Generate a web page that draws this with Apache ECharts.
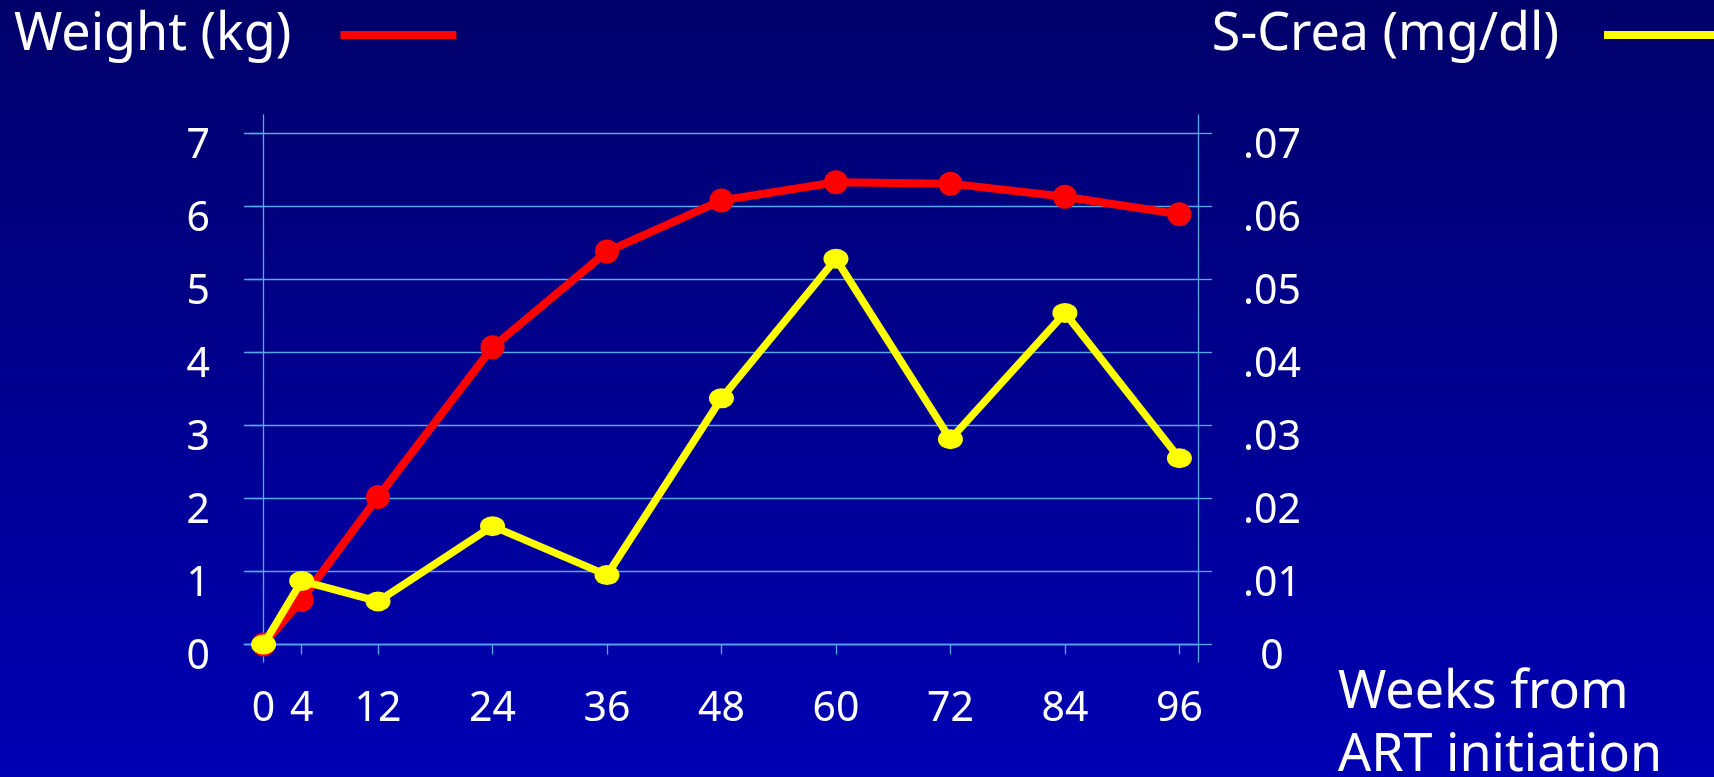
<!DOCTYPE html>
<html>
<head>
<meta charset="utf-8">
<script src="https://cdn.jsdelivr.net/npm/echarts@6/dist/echarts.min.js"></script>
<style>
  html, body { margin: 0; padding: 0; }
  #chart { width: 1714px; height: 777px; }
</style>
</head>
<body>
<div id="chart"></div>
<script>
// ---- data ----
const weeks = [0, 4, 12, 24, 36, 48, 60, 72, 84, 96];
const weightGain = [0, 0.61, 2.02, 4.07, 5.38, 6.08, 6.33, 6.31, 6.13, 5.89];
const sCrea = [0, 0.0087, 0.0059, 0.0162, 0.0095, 0.0337, 0.0528, 0.0281, 0.0454, 0.0255];
const leftTicks = [0, 1, 2, 3, 4, 5, 6, 7];
const rightTicks = [0, 0.01, 0.02, 0.03, 0.04, 0.05, 0.06, 0.07];
const rightTickLabels = ['0', '.01', '.02', '.03', '.04', '.05', '.06', '.07'];
const seriesNames = ['Weight (kg)', 'S-Crea (mg/dl)'];
const xTitle = 'Weeks from\nART initiation';

const FONT = 'Noto Sans';
const GRID_COLOR = '#58a8e6';

const chart = echarts.init(document.getElementById('chart'));
chart.setOption({
  animation: false,
  backgroundColor: {
    type: 'linear', x: 0, y: 0, x2: 0, y2: 1,
    colorStops: [
      { offset: 0, color: '#00006a' },
      { offset: 1, color: '#0000b4' }
    ]
  },
  textStyle: { fontFamily: FONT },
  title: {
    text: xTitle,
    left: 1338, top: 662, padding: 0,
    textStyle: { color: '#ffffff', fontSize: 52, fontFamily: FONT, fontWeight: 'normal', lineHeight: 63 }
  },
  legend: [
    {
      data: [seriesNames[0]],
      left: 14, top: 9, padding: 0,
      align: 'right',
      icon: 'rect', itemWidth: 116, itemHeight: 8,
      selectedMode: false,
      textStyle: { color: '#ffffff', fontSize: 52, fontFamily: FONT, padding: [0, 44, 0, 0] }
    },
    {
      data: [seriesNames[1]],
      right: -6, top: 9, padding: 0,
      align: 'right',
      icon: 'rect', itemWidth: 116, itemHeight: 8,
      selectedMode: false,
      textStyle: { color: '#ffffff', fontSize: 52, fontFamily: FONT, padding: [0, 40, 0, 0] }
    }
  ],
  grid: { left: 244, right: 516, top: 115, bottom: 115, containLabel: false },
  xAxis: {
    type: 'value',
    min: -2.05, max: 97.95,
    axisLine: { show: true, onZero: true, lineStyle: { color: GRID_COLOR, width: 1.3 } },
    axisTick: { show: true, customValues: weeks, length: 10, lineStyle: { color: GRID_COLOR, width: 1.3 } },
    axisLabel: { customValues: weeks, color: '#ffffff', fontSize: 41, fontFamily: FONT, margin: 27 },
    splitLine: { show: false }
  },
  yAxis: [
    {
      type: 'value', position: 'left',
      min: -0.24, max: 7.25,
      axisLine: { show: true, lineStyle: { color: GRID_COLOR, width: 1.3 } },
      axisTick: { show: true, customValues: leftTicks, length: 14, lineStyle: { color: GRID_COLOR, width: 1.3 } },
      axisLabel: {
        customValues: leftTicks, color: '#ffffff', fontSize: 41, fontFamily: FONT, margin: 34,
        verticalAlign: 'top', lineHeight: 26
      },
      splitLine: { show: true, lineStyle: { color: GRID_COLOR, width: 1.3 } }
    },
    {
      type: 'value', position: 'right',
      min: -0.0024, max: 0.0725,
      axisLine: { show: true, lineStyle: { color: GRID_COLOR, width: 1.3 } },
      axisTick: { show: true, customValues: rightTicks, length: 14, lineStyle: { color: GRID_COLOR, width: 1.3 } },
      axisLabel: {
        customValues: rightTicks, color: '#ffffff', fontSize: 41, fontFamily: FONT,
        margin: 74, align: 'center', verticalAlign: 'top', lineHeight: 26,
        formatter: function (v) {
          const i = rightTicks.findIndex(t => Math.abs(t - v) < 1e-9);
          return i >= 0 ? rightTickLabels[i] : '';
        }
      },
      splitLine: { show: false }
    }
  ],
  series: [
    {
      name: seriesNames[0],
      type: 'line',
      yAxisIndex: 0,
      data: weeks.map((w, i) => [w, weightGain[i]]),
      symbol: 'circle', symbolSize: 24, showSymbol: true,
      itemStyle: { color: '#ff0000' },
      lineStyle: { color: '#ff0000', width: 8 },
      z: 2
    },
    {
      name: seriesNames[1],
      type: 'line',
      yAxisIndex: 1,
      data: weeks.map((w, i) => [w, sCrea[i]]),
      symbol: 'circle', symbolSize: [25, 20], showSymbol: true,
      itemStyle: { color: '#ffff00' },
      lineStyle: { color: '#ffff00', width: 7.5 },
      z: 3
    }
  ]
});
</script>
</body>
</html>
